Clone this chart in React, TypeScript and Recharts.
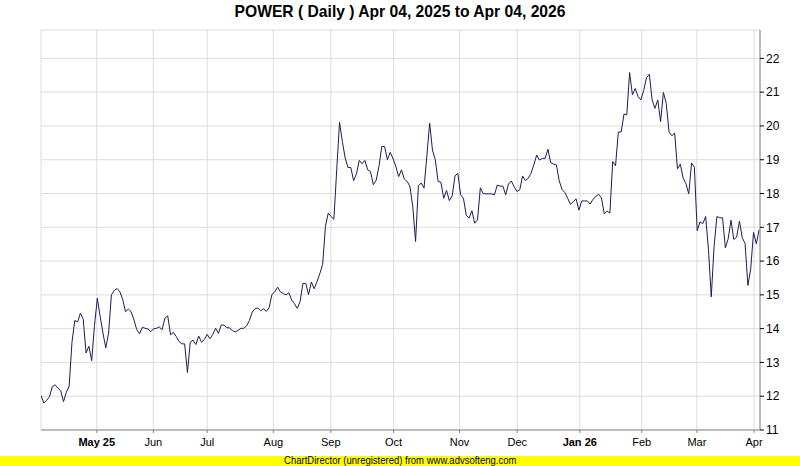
import React from "react";
import { LineChart, Line, XAxis, YAxis, CartesianGrid } from "recharts";

// daily closes, Apr 04 2025 -> Apr 2026
const closes = [
  12.02, 11.8, 11.88, 11.98, 12.28, 12.34, 12.24, 12.16, 11.84, 12.12,
  12.3, 13.6, 14.24, 14.2, 14.46, 14.28, 13.28, 13.48, 13.05, 14.1,
  14.9, 14.36, 13.87, 13.43, 13.87, 15.0, 15.13, 15.19, 15.09, 14.87,
  14.5, 14.58, 14.5, 14.26, 13.97, 13.85, 14.04, 14.01, 13.99, 13.91,
  14.0, 14.01, 14.05, 13.97, 14.31, 14.38, 13.82, 13.89, 13.77, 13.62,
  13.55, 13.55, 12.7, 13.6, 13.66, 13.53, 13.78, 13.6, 13.68, 13.83,
  13.7, 13.83, 14.01, 13.86, 14.11, 14.1, 14.03, 14.02, 13.94, 13.9,
  13.95, 14.01, 14.01, 14.08, 14.24, 14.49, 14.59, 14.61, 14.53, 14.59,
  14.51, 14.62, 15.01, 15.09, 15.23, 15.09, 15.04, 15.0, 15.06, 14.85,
  14.74, 14.6, 14.8, 15.34, 15.34, 15.01, 15.38, 15.18, 15.39, 15.63,
  15.9, 17.03, 17.42, 17.32, 17.24, 18.7, 20.11, 19.54, 19.05, 18.77,
  18.77, 18.38, 18.58, 18.98, 18.88, 18.98, 18.7, 18.65, 18.26, 18.39,
  18.8, 19.39, 19.39, 19.0, 19.22, 19.03, 18.8, 18.5, 18.7, 18.43,
  18.36, 18.21, 17.62, 16.58, 18.23, 18.31, 18.16, 19.11, 20.08, 19.29,
  19.0, 18.36, 18.33, 17.86, 18.09, 17.79, 17.93, 18.52, 18.6, 17.96,
  17.86, 17.36, 17.27, 17.49, 17.12, 17.22, 18.17, 18.0, 17.99, 17.99,
  17.99, 17.96, 18.25, 18.22, 18.22, 17.96, 18.28, 18.37, 18.2, 18.06,
  18.11, 18.52, 18.38, 18.45, 18.6, 18.85, 19.14, 18.99, 19.04, 19.04,
  19.31, 18.91, 18.87, 18.85, 18.38, 18.12, 18.03, 17.86, 17.68, 17.76,
  17.84, 17.51, 17.78, 17.78, 17.78, 17.69, 17.83, 17.91, 17.98, 17.87,
  17.4, 17.48, 17.42, 18.95, 18.82, 19.82, 19.82, 20.35, 20.33, 21.58,
  20.92, 21.11, 20.87, 20.77, 21.05, 21.43, 21.53, 20.77, 20.52, 20.77,
  20.13, 20.99, 20.67, 19.83, 19.71, 19.79, 18.73, 18.87, 18.46, 18.29,
  17.99, 18.9, 18.78, 16.9, 17.16, 17.11, 17.32, 16.34, 14.94, 16.44,
  17.32, 17.28, 17.28, 16.39, 16.66, 17.21, 16.64, 16.71, 17.18, 16.69,
  16.52, 15.28, 15.77, 16.85, 16.51, 16.93,
];

// first trading day of each month, as a position along the day index
const monthTicks = [19.8, 39.9, 59.0, 82.5, 102.9, 125.2, 148.6, 169.1, 191.3, 213.3, 232.9, 253.2];
const monthLabels = ["May 25", "Jun", "Jul", "Aug", "Sep", "Oct", "Nov", "Dec", "Jan 26", "Feb", "Mar", "Apr"];
const priceTicks = [11, 12, 13, 14, 15, 16, 17, 18, 19, 20, 21, 22];

const data = closes.map((close, day) => ({ day, close }));

const FONT = "'Liberation Sans', Arial, sans-serif";

const MonthTick = (props: any) => {
  const { x, y, payload } = props;
  const label = monthLabels[monthTicks.indexOf(payload.value)] ?? "";
  const isYear = /\d/.test(label);
  return (
    <text
      x={x}
      y={y + 11}
      textAnchor="middle"
      fontSize={11}
      fontFamily={FONT}
      fontWeight={isYear ? "bold" : "normal"}
      fill="#000"
    >
      {label}
    </text>
  );
};

export default function App() {
  return (
    <div style={{ position: "relative", width: 800, height: 466, background: "#fff" }}>
      <style>{"body{margin:0}"}</style>
      <div
        style={{
          position: "absolute",
          top: 2,
          left: 0,
          width: 800,
          textAlign: "center",
          fontFamily: FONT,
          fontWeight: "bold",
          fontSize: 17,
          transform: "scaleX(0.92)",
        }}
      >
        POWER ( Daily ) Apr 04, 2025 to Apr 04, 2026
      </div>
      <LineChart
        width={800}
        height={466}
        data={data}
        margin={{ top: 30, right: 0, bottom: 16, left: 41 }}
      >
        <CartesianGrid stroke="#dcdcdc" vertical horizontal />
        <XAxis
          dataKey="day"
          type="number"
          domain={[0, 255.3]}
          ticks={monthTicks}
          allowDataOverflow
          interval={0}
          height={20}
          tick={<MonthTick />}
          tickSize={3}
          tickLine={{ stroke: "#888" }}
          axisLine={{ stroke: "#888" }}
        />
        <XAxis
          xAxisId="top"
          orientation="top"
          type="number"
          domain={[0, 255.3]}
          height={0}
          tick={false}
          tickLine={false}
          axisLine={{ stroke: "#888" }}
        />
        <YAxis
          orientation="right"
          domain={[11, 22.84]}
          ticks={priceTicks}
          allowDataOverflow
          interval={0}
          width={40}
          tickSize={4}
          tickMargin={2}
          tick={{ fontSize: 12, fontFamily: FONT, fill: "#000", textAnchor: "start" }}
          tickLine={{ stroke: "#000" }}
          axisLine={{ stroke: "#888" }}
        />
        <YAxis
          yAxisId="left"
          orientation="left"
          domain={[11, 22.84]}
          width={0}
          tick={false}
          tickLine={false}
          axisLine={{ stroke: "#888" }}
        />
        <Line
          type="linear"
          dataKey="close"
          stroke="#1c1c5c"
          strokeWidth={1}
          dot={false}
          isAnimationActive={false}
        />
      </LineChart>
      <div
        style={{
          position: "absolute",
          left: 0,
          top: 456,
          width: 800,
          height: 10,
          background: "#ffff00",
          textAlign: "center",
          fontFamily: FONT,
          fontSize: 10,
          lineHeight: "10px",
          overflow: "hidden",
        }}
      >
        <span style={{ display: "inline-block", transform: "scaleX(0.95)" }}>
          ChartDirector (unregistered) from www.advsofteng.com
        </span>
      </div>
    </div>
  );
}
